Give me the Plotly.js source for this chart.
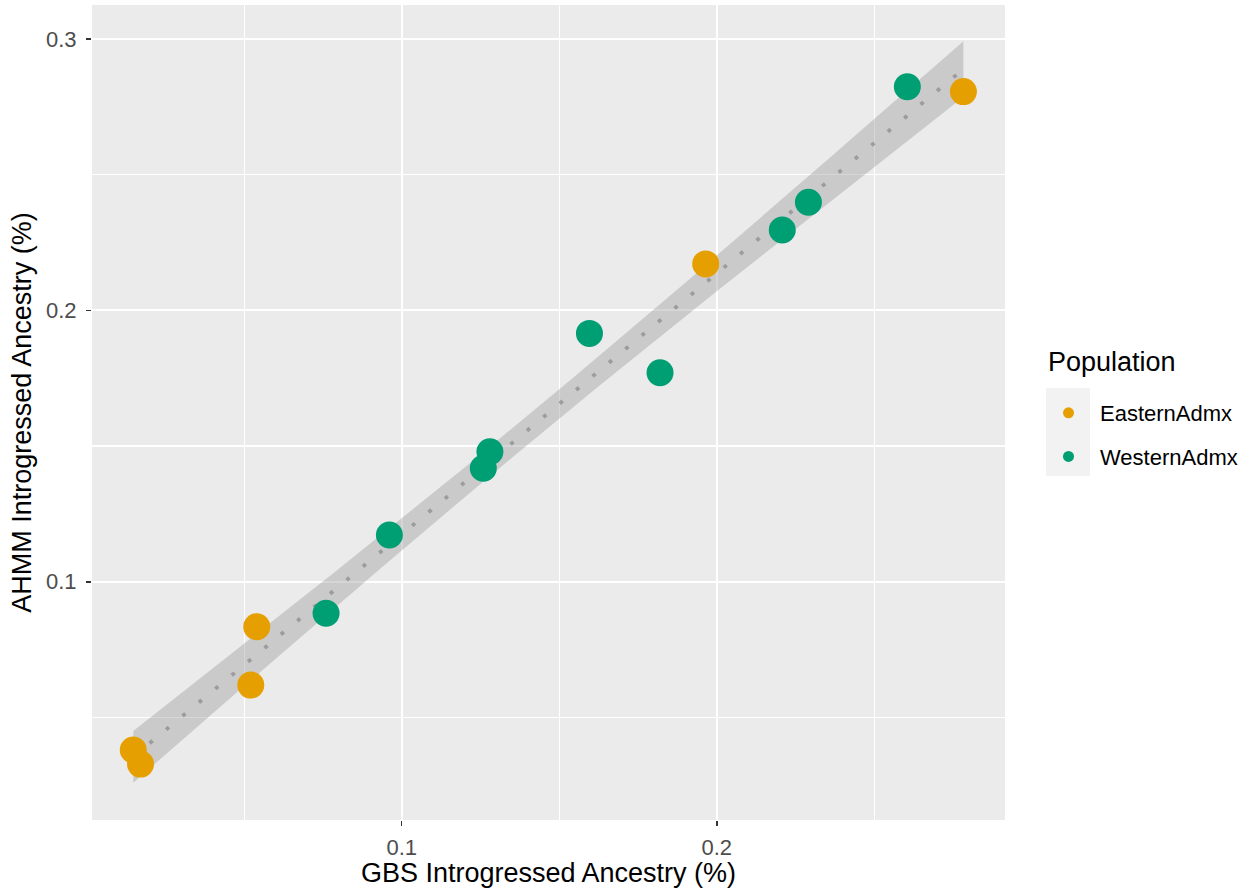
<!DOCTYPE html>
<html>
<head>
<meta charset="utf-8">
<script src="https://cdn.plot.ly/plotly-3.0.1.min.js"></script>
<style>html,body{margin:0;padding:0;background:#fff;}#chart{width:1259px;height:888px;}</style>
</head>
<body>
<div id="chart"></div>
<script>
// Data
const easternGBS  = [0.0148, 0.0171, 0.0540, 0.0521, 0.1965, 0.2783];
const easternAHMM = [0.0380, 0.0328, 0.0834, 0.0619, 0.2171, 0.2806];
const westernGBS  = [0.0760, 0.0961, 0.1280, 0.1259, 0.1596, 0.1820, 0.2208, 0.2291, 0.2605];
const westernAHMM = [0.0884, 0.1172, 0.1479, 0.1418, 0.1915, 0.1770, 0.2296, 0.2398, 0.2824];
const groupNames = ['EasternAdmx', 'WesternAdmx'];
const groupColors = ['#E69F00', '#009E73'];
const legendTitle = 'Population';
const xTitle = 'GBS Introgressed Ancestry (%)';
const yTitle = 'AHMM Introgressed Ancestry (%)';

// Linear fit (lm) with 95% confidence band, from all points
const xs = easternGBS.concat(westernGBS);
const ys = easternAHMM.concat(westernAHMM);
const n = xs.length;
const mx = xs.reduce((a, b) => a + b, 0) / n;
const my = ys.reduce((a, b) => a + b, 0) / n;
let sxx = 0, sxy = 0;
for (let i = 0; i < n; i++) { sxx += (xs[i] - mx) ** 2; sxy += (xs[i] - mx) * (ys[i] - my); }
const slope = sxy / sxx;
const icpt = my - slope * mx;
let sse = 0;
for (let i = 0; i < n; i++) sse += (ys[i] - (icpt + slope * xs[i])) ** 2;
const sigma = Math.sqrt(sse / (n - 2));
const tq = 2.160; // t(0.975, df = 13)
const xmin = Math.min(...xs), xmax = Math.max(...xs);
const fx = [], fy = [], lo = [], hi = [];
for (let k = 0; k < 80; k++) {
  const x = xmin + (xmax - xmin) * k / 79;
  const y = icpt + slope * x;
  const se = sigma * Math.sqrt(1 / n + (x - mx) ** 2 / sxx);
  fx.push(x); fy.push(y); lo.push(y - tq * se); hi.push(y + tq * se);
}

const font = 'Liberation Sans, Arial, Helvetica, sans-serif';
const traces = [
  { x: fx.concat(fx.slice().reverse()), y: hi.concat(lo.slice().reverse()),
    type: 'scatter', mode: 'lines', fill: 'toself', fillcolor: 'rgba(153,153,153,0.4)',
    line: { width: 0 }, hoverinfo: 'skip', showlegend: false },
  { x: fx, y: fy, type: 'scatter', mode: 'lines',
    line: { color: '#9C9C9C', width: 3.8, dash: '3.8px,17.5px' },
    hoverinfo: 'skip', showlegend: false },
  { x: easternGBS, y: easternAHMM, type: 'scatter', mode: 'markers', name: groupNames[0],
    marker: { color: groupColors[0], size: 27 }, showlegend: false },
  { x: westernGBS, y: westernAHMM, type: 'scatter', mode: 'markers', name: groupNames[1],
    marker: { color: groupColors[1], size: 27 }, showlegend: false },
  { x: [null], y: [null], type: 'scatter', mode: 'markers', name: groupNames[0], legendgroup: 'e',
    marker: { color: groupColors[0], size: 11 } },
  { x: [null], y: [null], type: 'scatter', mode: 'markers', name: groupNames[1], legendgroup: 'w',
    marker: { color: groupColors[1], size: 11 } }
];

const W = 1259, H = 888, L = 92, R = 254, T = 5, B = 68;
const pw = W - L - R, ph = H - T - B;
const px = v => (v - L) / pw;
const py = v => 1 - (v - T) / ph;

const axisCommon = {
  showgrid: true, gridcolor: '#FFFFFF', gridwidth: 2.2, zeroline: false,
  ticks: 'outside', ticklen: 5, tickwidth: 1.6, tickcolor: '#333333',
  tickfont: { family: font, size: 22, color: '#4D4D4D' },
  dtick: 0.1, tick0: 0, showline: false,
  minor: { dtick: 0.05, tick0: 0, showgrid: true, gridcolor: '#FFFFFF', gridwidth: 1.1, ticks: '' }
};

const layout = {
  width: W, height: H,
  margin: { l: L, r: R, t: T, b: B },
  paper_bgcolor: '#FFFFFF', plot_bgcolor: '#EBEBEB',
  font: { family: font, color: '#000000' },
  xaxis: Object.assign({}, axisCommon, {
    range: [0.0017, 0.2915], ticklabelstandoff: 3,
    title: { text: xTitle, font: { family: font, size: 27, color: '#000' }, standoff: 4 }
  }),
  yaxis: Object.assign({}, axisCommon, {
    range: [0.0122, 0.3125], ticklabelstandoff: 5,
    title: { text: yTitle, font: { family: font, size: 27, color: '#000' }, standoff: 6 }
  }),
  showlegend: true,
  legend: {
    x: px(1037), xanchor: 'left', y: py(392), yanchor: 'top',
    bgcolor: 'rgba(0,0,0,0)', borderwidth: 0,
    font: { family: font, size: 22, color: '#000' },
    tracegroupgap: 12, itemwidth: 53
  },
  annotations: [
    { text: legendTitle, xref: 'paper', yref: 'paper', x: px(1046), y: py(362),
      xanchor: 'left', yanchor: 'middle', showarrow: false,
      font: { family: font, size: 27, color: '#000' } }
  ],
  shapes: [
    { type: 'rect', xref: 'paper', yref: 'paper', x0: px(1046), x1: px(1090), y0: py(476), y1: py(388),
      fillcolor: '#F2F2F2', line: { width: 0 }, layer: 'below' }
  ]
};

Plotly.newPlot('chart', traces, layout, { displayModeBar: false, staticPlot: true });
</script>
</body>
</html>
